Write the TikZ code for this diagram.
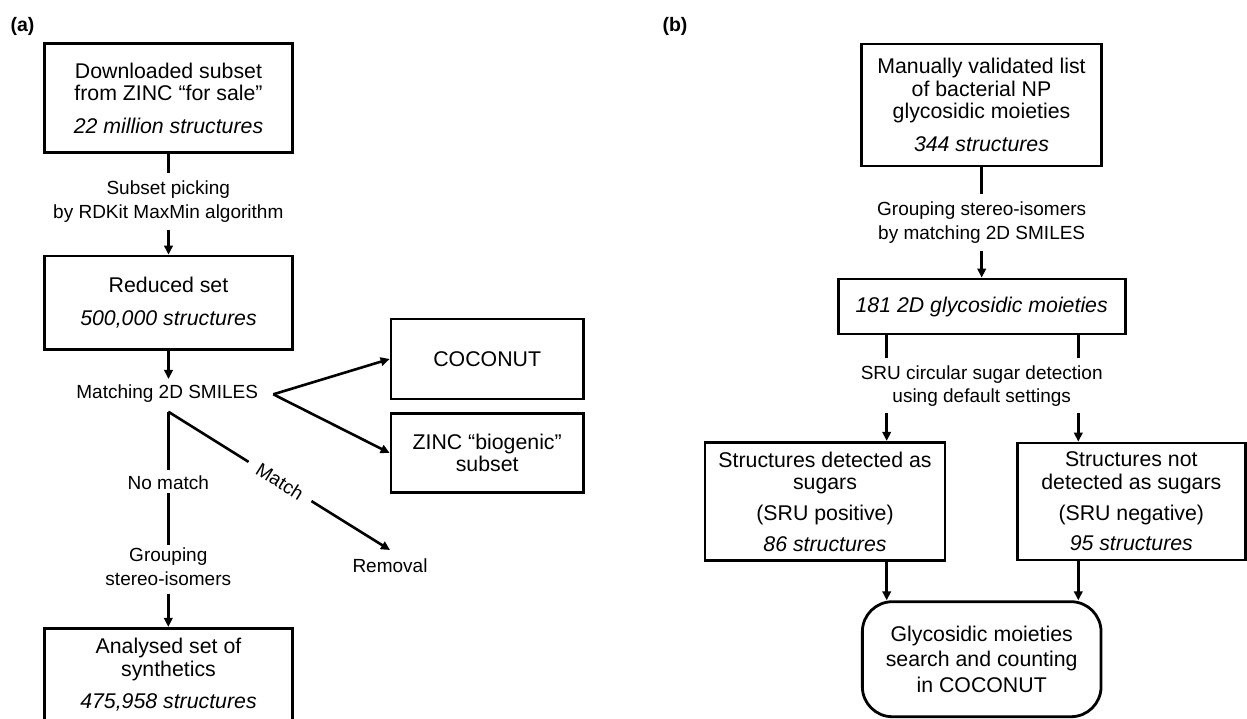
\documentclass[tikz,border=0pt]{standalone}
\usepackage{fontspec}
\setmainfont{Liberation Sans}
\usetikzlibrary{arrows.meta,calc}
\newcommand\boxfs{\fontsize{21.3}{22.6}\selectfont}
\newcommand\lblfs{\fontsize{19}{23.3}\selectfont}
\newcommand\panfs{\fontsize{19.5}{22}\selectfont\bfseries}
\begin{document}
\begin{tikzpicture}[x=1pt,y=-1pt,
 box/.style={draw, line width=2.8pt, rectangle, align=center, inner sep=0pt, font=\boxfs},
 rbox/.style={box, rounded corners=30pt},
 lbl/.style={align=center, font=\lblfs, inner sep=3pt},
 conn/.style={line width=2.6pt},
 arr/.style={conn, -{Triangle[length=9pt,width=8.5pt]}},
]
\useasboundingbox (0,0) rectangle (1247,718);
\clip (0,0) rectangle (1247,718);
% ---------- panel (a)
\node[font=\panfs, inner sep=0pt] (la) at (22.5,26.7) {(a)};
\node[box, minimum width=248.4pt, minimum height=109.4pt] (a1) at (168.5,98) {Downloaded subset\\from ZINC “for sale”\\[10pt]\textit{22 million structures}};
\node[lbl] (l1) at (168.3,201.7) {Subset picking\\by RDKit MaxMin algorithm};
\node[box, minimum width=248.4pt, minimum height=93.3pt] (a2) at (168.5,302.7) {Reduced set\\[10pt]\textit{500,000 structures}};
\node[lbl] (m) at (167.2,394) {Matching 2D SMILES};
\coordinate (br) at (273.3,394.3);
\coordinate (sp) at (168.3,411.7);
\node[box, minimum width=192.3pt, minimum height=80pt] (coco) at (487.2,359) {COCONUT};
\node[box, minimum width=192.3pt, minimum height=79.4pt] (zinc) at (487.2,453) {ZINC “biogenic”\\subset};
\node[lbl, rotate=-32, inner xsep=11pt] (mt) at (280,481.5) {Match};
\coordinate (rt) at (390,550);
\node[lbl] (rem) at (390,566) {Removal};
\node[lbl] (nm) at (168.3,482.7) {No match};
\node[lbl] (gr) at (168.3,566.7) {Grouping\\stereo-isomers};
\node[box, minimum width=248.4pt, minimum height=93.4pt] (a3) at (168.5,675) {Analysed set of\\synthetics\\[10pt]\textit{475,958 structures}};
\draw[conn, shorten >=5pt] (a1.south) -- (a1.south |- l1.north);
\draw[arr, shorten <=5pt] (l1.south -| a2.north) -- (a2.north);
\draw[arr, shorten >=3pt] (a2.south) -- (a2.south |- m.north);
\draw[arr] (br) -- (coco.west);
\draw[arr] (br) -- (zinc.west);
\draw[conn, shorten >=3pt] (sp) -- (sp |- nm.north);
\draw[conn] (sp) -- (mt);
\draw[arr] (mt) -- (rt);
\draw[conn] (nm.south) -- (nm.south |- gr.north);
\draw[arr, shorten <=5pt] (gr.south) -- (gr.south |- a3.north);
% ---------- panel (b)
\node[font=\panfs, inner sep=0pt] (lb) at (675,26.7) {(b)};
\node[box, minimum width=239.3pt, minimum height=122pt] (b1) at (981.5,105) {Manually validated list\\of bacterial NP\\glycosidic moieties\\[10pt]\textit{344 structures}};
\node[lbl] (l2) at (981.7,222.5) {Grouping stereo-isomers\\by matching 2D SMILES};
\node[box, minimum width=287pt, minimum height=55pt] (b2) at (981.7,306.5) {\textit{181 2D glycosidic moieties}};
\node[lbl] (l3) at (981.7,386) {SRU circular sugar detection\\using default settings};
\coordinate (cl) at (886.7,0);
\coordinate (cr) at (1078.3,0);
\node[box, minimum width=240pt, minimum height=118.5pt] (b3) at (825,501.5) {Structures detected as\\sugars\\[8pt](SRU positive)\\[8pt]\textit{86 structures}};
\node[box, minimum width=228pt, minimum height=117pt] (b4) at (1131.3,501.5) {Structures not\\detected as sugars\\[8pt](SRU negative)\\[8pt]\textit{95 structures}};
\node[rbox, minimum width=238.7pt, minimum height=115pt, font=\fontsize{21.3}{25.5}\selectfont] (b5) at (981.7,659.2) {Glycosidic moieties\\search and counting\\in COCONUT};
\draw[conn, shorten >=5pt] (b1.south) -- (b1.south |- l2.north);
\draw[arr, shorten <=5pt] (l2.south -| b2.north) -- (b2.north);
\draw[conn, shorten >=4pt] (cl |- b2.south) -- (cl |- l3.north);
\draw[conn, shorten >=4pt] (cr |- b2.south) -- (cr |- l3.north);
\draw[arr, shorten <=3pt] (cl |- l3.south) -- (cl |- b3.north);
\draw[arr, shorten <=3pt] (cr |- l3.south) -- (cr |- b4.north);
\draw[arr] (cl |- b3.south) -- (cl |- b5.north);
\draw[arr] (cr |- b4.south) -- (cr |- b5.north);
\end{tikzpicture}
\end{document}
